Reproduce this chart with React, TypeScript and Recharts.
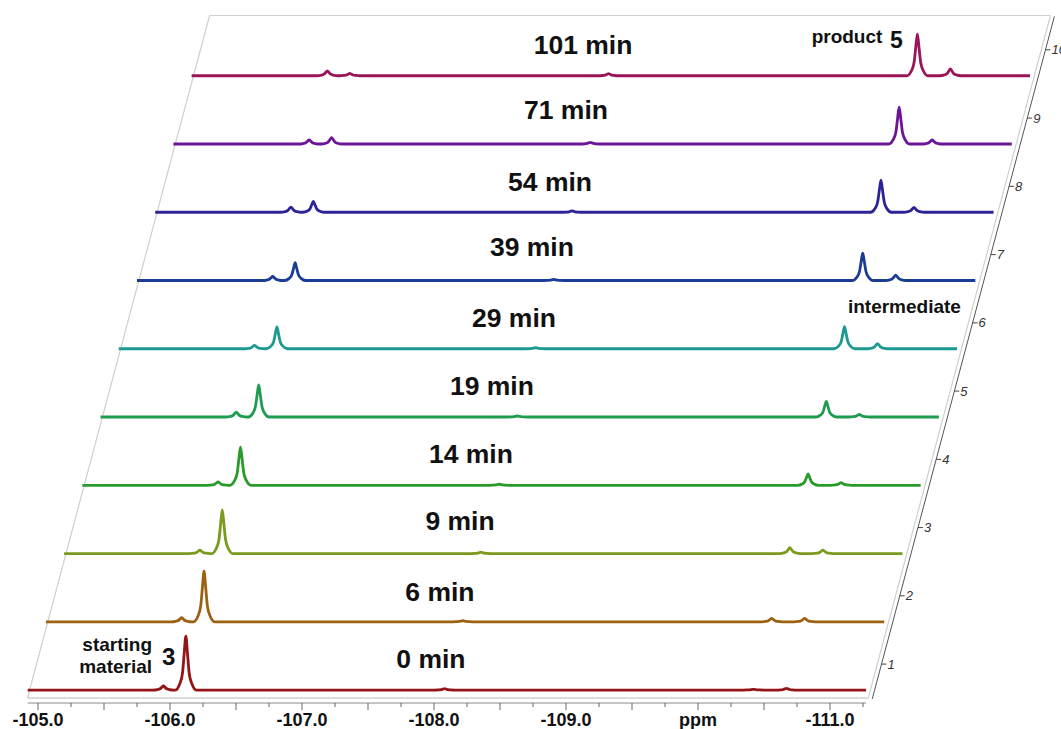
import { ComposedChart, Line, XAxis, YAxis, ReferenceLine, ReferenceDot } from "recharts";

// reaction times, one 19F trace each (front to back)
const TIMES = ["0 min", "6 min", "9 min", "14 min", "19 min", "29 min", "39 min", "54 min", "71 min", "101 min"];
const COLORS = ["#931515", "#9c6212", "#7b9b1e", "#2a9a2a", "#1f9c50", "#1c9a92", "#1a3c96", "#2c2496", "#6a1696", "#9a1558"];

// peak positions (ppm) and heights read per trace
const PEAK_PPM = [-105.95, -106.12, -108.08, -110.42, -110.67];
const H_105_95 = [6, 6, 5, 5, 7, 5, 6, 7.5, 6, 7];
const H_106_12 = [79, 74, 64, 56, 47, 32, 26, 16, 9.5, 3.5]; // starting material 3
const H_108_08 = [2, 1.5, 2, 1.5, 1.5, 1.5, 1.5, 2, 2.5, 3];
const H_110_42 = [1, 5, 8.5, 16.5, 23, 32.5, 40, 47, 54, 61]; // product 5
const H_110_67 = [2.5, 5, 5, 4, 4, 7.5, 8, 7, 6, 10];

const PPM_TICKS = [
  -105, -105.25, -105.5, -105.75, -106, -106.25, -106.5, -106.75, -107, -107.25, -107.5, -107.75, -108,
  -108.25, -108.5, -108.75, -109, -109.25, -109.5, -109.75, -110, -110.25, -110.5, -110.75, -111, -111.25,
];
const Z_TICKS = [1, 2, 3, 4, 5, 6, 7, 8, 9, 10];

// layout
const PPM_START = -104.922;
const PPM_END = -111.273;
const X_DOMAIN = [-112.75, -104.75];
const Y_DOMAIN = [-19, 1011];
const DEPTH_SHIFT = 0.138; // ppm skew per trace
const TRACE_STEP = 100; // intensity units between traces
const PLANE = { left: -104.92, right: -111.29, base: -11.7, depth: 10 };
const Z_TICK_AT = [-111.39, 38];
const LABEL_AT = [
  [-107.977, 45.5], [-108.045, 143.6], [-108.197, 247.7], [-108.28, 345.8], [-108.439, 445.5],
  [-108.606, 545.1], [-108.742, 649.1], [-108.879, 744.3], [-109.0, 849.8], [-109.129, 945.1],
];

const FONT = '"Liberation Sans", Arial, sans-serif';
const HEIGHTS = [H_105_95, H_106_12, H_108_08, H_110_42, H_110_67];
// lorentzian-ish line shape: [offset ppm, fraction of height]
const HALF = [[0.08, 0], [0.045, 0.12], [0.025, 0.32], [0.013, 0.66], [0, 1]];
const SHAPE = [...HALF, ...HALF.slice(0, -1).reverse().map(([o, f]) => [-o, f])];

const spectra = TIMES.map((_, i) => {
  const pts = [{ ppm: PPM_START, v: 0 }];
  PEAK_PPM.forEach((p, j) => {
    const h = HEIGHTS[j][i];
    if (!h) return;
    SHAPE.forEach(([o, f]) => pts.push({ ppm: p + o, v: h * f }));
  });
  pts.push({ ppm: PPM_END, v: 0 });
  return pts;
});

const PpmTick = (props: any) => {
  const { x, y, payload } = props;
  const v = payload.value;
  const half = Math.abs(v * 2 - Math.round(v * 2)) < 1e-6;
  const whole = Math.abs(v - Math.round(v)) < 1e-6;
  return (
    <g>
      <line x1={x} x2={x} y1={y} y2={y + (half ? 7 : 4)} stroke="#666" strokeWidth={1} />
      {whole && (
        <text x={x} y={y + 22.5} textAnchor="middle" fontSize={18} fontWeight="bold" fill="#111" fontFamily={FONT}>
          {v === -110 ? "ppm" : v.toFixed(1)}
        </text>
      )}
    </g>
  );
};

const textShape = (label: string, opts: any) => (p: any) => (
  <text
    x={p.cx}
    y={p.cy}
    fontFamily={FONT}
    fontWeight="bold"
    fill="#111"
    {...opts}
  >
    {label}
  </text>
);

export default function App() {
  const topLeft = { x: PLANE.left - PLANE.depth * DEPTH_SHIFT, y: PLANE.base + PLANE.depth * TRACE_STEP };
  const topRight = { x: PLANE.right - PLANE.depth * DEPTH_SHIFT, y: PLANE.base + PLANE.depth * TRACE_STEP };
  return (
    <div style={{ position: "fixed", left: 0, top: 0, width: 1061, height: 729, background: "#fff", overflow: "hidden" }}>
      <ComposedChart width={1061} height={729} margin={{ top: 0, right: 0, bottom: 0, left: 5 }} style={{ fontFamily: FONT }}>
        {TIMES.map((_, i) => (
          <XAxis
            key={`x${i}`}
            xAxisId={i}
            type="number"
            dataKey="ppm"
            domain={[X_DOMAIN[0] + DEPTH_SHIFT * i, X_DOMAIN[1] + DEPTH_SHIFT * i]}
            reversed
            allowDataOverflow
            hide={i > 0}
            height={26}
            ticks={PPM_TICKS}
            interval={0}
            tickSize={0}
            tickMargin={0}
            axisLine={false}
            tickLine={false}
            tick={(p: any) => <PpmTick {...p} />}
          />
        ))}
        {TIMES.map((_, i) => (
          <YAxis
            key={`y${i}`}
            yAxisId={i}
            type="number"
            domain={[Y_DOMAIN[0] - TRACE_STEP * i, Y_DOMAIN[1] - TRACE_STEP * i]}
            allowDataOverflow
            hide
          />
        ))}

        {/* base plane */}
        <ReferenceLine xAxisId={0} yAxisId={0} ifOverflow="visible" stroke="#d0d0d0" strokeWidth={1.5}
          segment={[{ x: PLANE.left, y: PLANE.base }, { x: PLANE.right, y: PLANE.base }]} />
        <ReferenceLine xAxisId={0} yAxisId={0} ifOverflow="visible" stroke="#d0d0d0" strokeWidth={1.2}
          segment={[{ x: PLANE.left, y: PLANE.base }, topLeft]} />
        <ReferenceLine xAxisId={0} yAxisId={0} ifOverflow="visible" stroke="#d0d0d0" strokeWidth={1.2}
          segment={[topLeft, topRight]} />
        <ReferenceLine xAxisId={0} yAxisId={0} ifOverflow="visible" stroke="#d0d0d0" strokeWidth={1.2}
          segment={[{ x: PLANE.right, y: PLANE.base }, topRight]} />
        {/* ppm axis line */}
        <ReferenceLine xAxisId={0} yAxisId={0} ifOverflow="visible" stroke="#8a8a8a" strokeWidth={1}
          segment={[{ x: PPM_START, y: Y_DOMAIN[0] }, { x: PPM_END, y: Y_DOMAIN[0] }]} />
        {/* depth axis */}
        <ReferenceLine xAxisId={0} yAxisId={0} ifOverflow="visible" stroke="#555" strokeWidth={1}
          segment={[{ x: -111.32, y: -13 }, { x: -111.32 - 10 * DEPTH_SHIFT, y: 987 }]} />
        {Z_TICKS.map((k, i) => (
          <ReferenceDot
            key={`z${k}`}
            xAxisId={i}
            yAxisId={i}
            x={Z_TICK_AT[0]}
            y={Z_TICK_AT[1]}
            ifOverflow="visible"
            shape={(p: any) => (
              <g>
                <line x1={p.cx} x2={p.cx + 5} y1={p.cy} y2={p.cy} stroke="#444" />
                <text x={p.cx + 6} y={p.cy + 4.5} fontSize={13} fontStyle="italic" fill="#333" fontFamily={FONT}>
                  {k}
                </text>
              </g>
            )}
          />
        ))}

        {spectra.map((d, i) => (
          <Line
            key={TIMES[i]}
            data={d}
            xAxisId={i}
            yAxisId={i}
            dataKey="v"
            type="monotone"
            stroke={COLORS[i]}
            strokeWidth={2.8}
            strokeLinejoin="round"
            dot={false}
            activeDot={false}
            isAnimationActive={false}
          />
        ))}

        {TIMES.map((t, i) => (
          <ReferenceDot
            key={`l${t}`}
            xAxisId={0}
            yAxisId={0}
            x={LABEL_AT[i][0]}
            y={LABEL_AT[i][1]}
            ifOverflow="visible"
            shape={textShape(t, { textAnchor: "middle", dominantBaseline: "central", fontSize: 26.5 })}
          />
        ))}
        <ReferenceDot xAxisId={0} yAxisId={0} x={-105.864} y={57.2} ifOverflow="visible"
          shape={(p: any) => (
            <text x={p.cx} y={p.cy} textAnchor="end" fontFamily={FONT} fontWeight="bold" fontSize={19} fill="#111">
              <tspan x={p.cx}>starting</tspan>
              <tspan x={p.cx} dy={22}>material</tspan>
            </text>
          )} />
        <ReferenceDot xAxisId={0} yAxisId={0} x={-105.939} y={36.7} ifOverflow="visible"
          shape={textShape("3", { fontSize: 24 })} />
        <ReferenceDot xAxisId={0} yAxisId={0} x={-110.861} y={947.6} ifOverflow="visible"
          shape={textShape("product", { fontSize: 19 })} />
        <ReferenceDot xAxisId={0} yAxisId={0} x={-111.455} y={941.1} ifOverflow="visible"
          shape={textShape("5", { fontSize: 23 })} />
        <ReferenceDot xAxisId={0} yAxisId={0} x={-111.136} y={552} ifOverflow="visible"
          shape={textShape("intermediate", { fontSize: 19 })} />
      </ComposedChart>
    </div>
  );
}
